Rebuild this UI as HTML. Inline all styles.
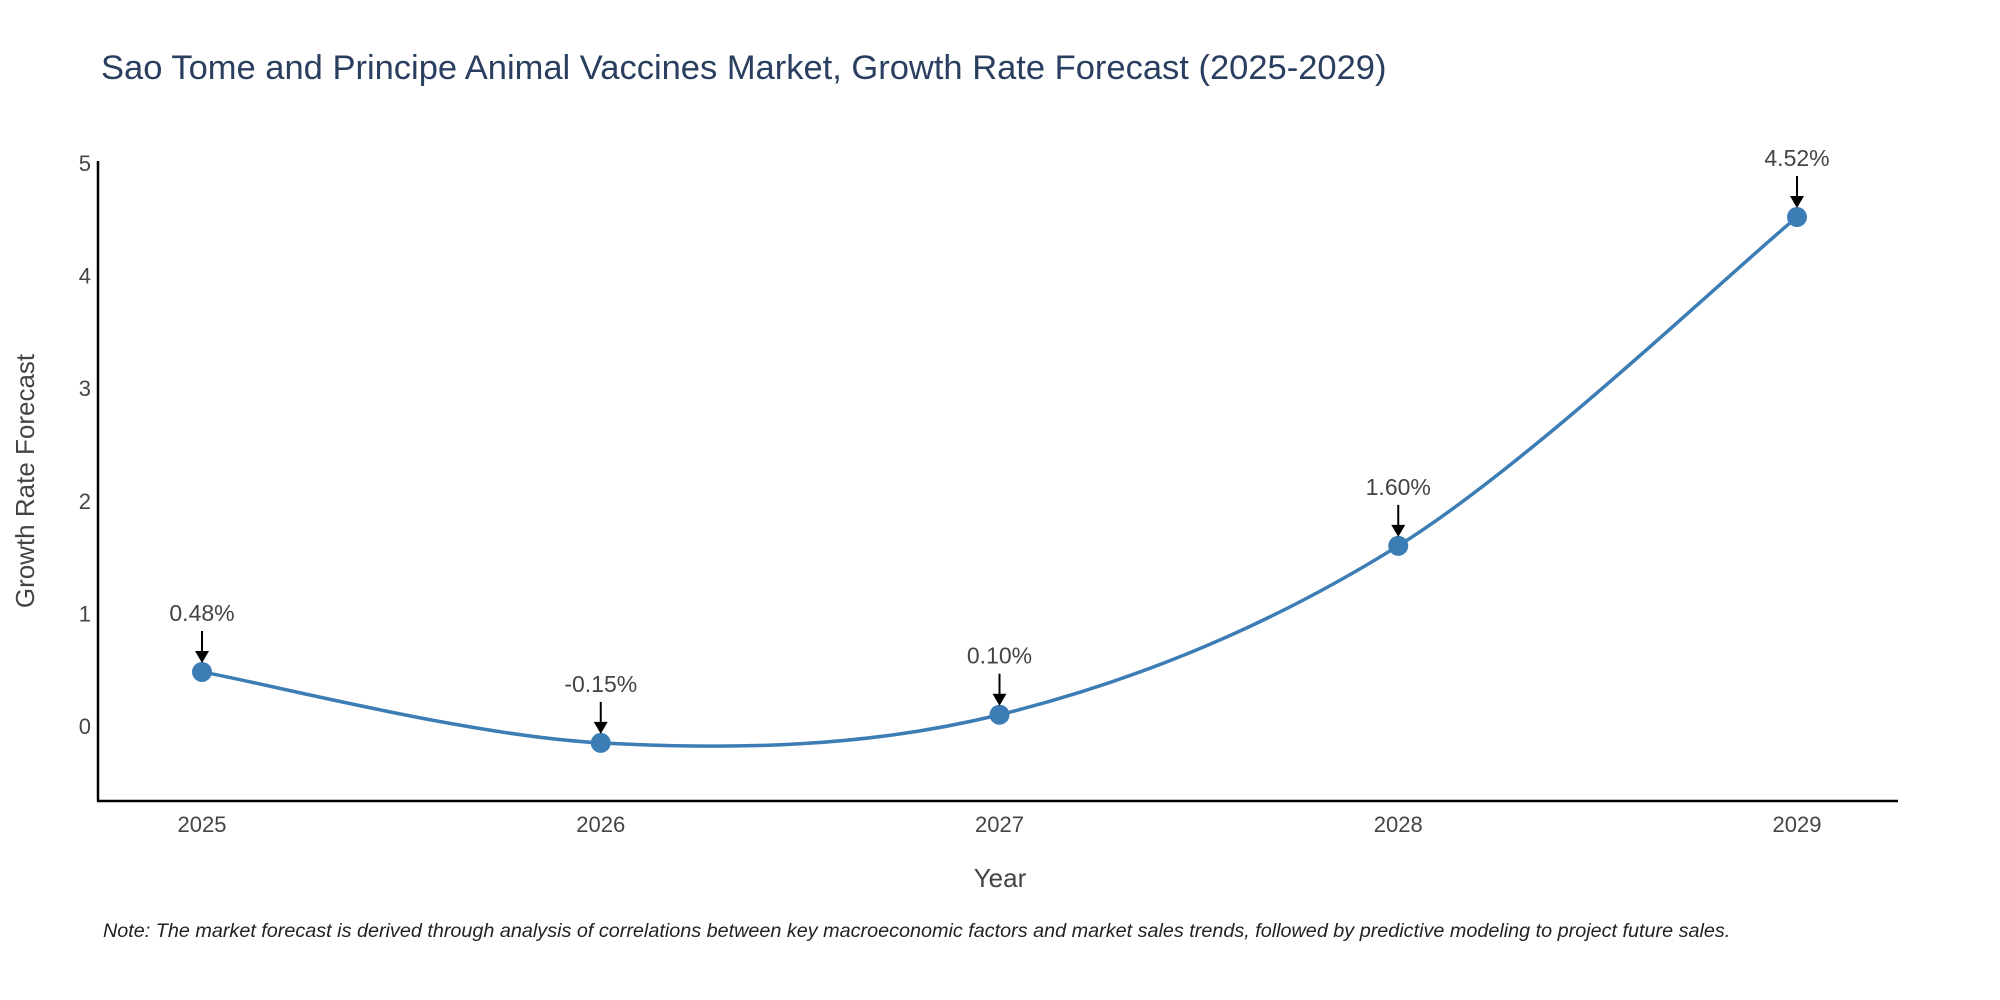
<!DOCTYPE html>
<html><head><meta charset="utf-8">
<style>
body{margin:0;background:#fff;}
svg{display:block;font-family:"Liberation Sans","DejaVu Sans",sans-serif;}
</style></head>
<body>
<svg id="chart" width="2000" height="1000" viewBox="0 0 2000 1000">
<text x="101" y="79" font-size="34.5" fill="#2a3f5f">Sao Tome and Principe Animal Vaccines Market, Growth Rate Forecast (2025-2029)</text>
<g id="axes"></g>
<g id="series"></g>
<g id="annots"></g>
<text x="34" y="481" font-size="26" fill="#444" text-anchor="middle" transform="rotate(-90 34 481)">Growth Rate Forecast</text>
<text x="1000" y="887" font-size="26" fill="#444" text-anchor="middle">Year</text>
<text x="103" y="937" font-size="19.8" fill="#222" font-style="italic">Note: The market forecast is derived through analysis of correlations between key macroeconomic factors and market sales trends, followed by predictive modeling to project future sales.</text>
</svg>
<script>
const years = [2025, 2026, 2027, 2028, 2029];
const growth = [0.48, -0.15, 0.10, 1.60, 4.52];
const labels = ["0.48%", "-0.15%", "0.10%", "1.60%", "4.52%"];
const yTicks = [0, 1, 2, 3, 4, 5];

const NS = "http://www.w3.org/2000/svg";
const x0 = 98, x1 = 1898, yTop = 161, yBot = 801;
const xs = i => 202 + i * (1797 - 202) / (years.length - 1);
const ys = v => 726 - v * 112.6;
function mk(tag, attrs, parent, txt){
  const e = document.createElementNS(NS, tag);
  for (const k in attrs) e.setAttribute(k, attrs[k]);
  if (txt !== undefined) e.textContent = txt;
  parent.appendChild(e); return e;
}
const axes = document.getElementById('axes');
let l = mk('line', {x1:x0, y1:yTop, x2:x0, y2:yBot, stroke:'#000', 'stroke-width':2.5}, axes);


l = mk('line', {x1:x0-1, y1:yBot, x2:x1, y2:yBot, stroke:'#000', 'stroke-width':2.5}, axes);


yTicks.forEach(t => {
  const e = mk('text', {x:91, y:ys(t)+8, 'font-size':22, fill:'#444', 'text-anchor':'end'}, axes, t);
  
  
});
years.forEach((y, i) => {
  const e = mk('text', {x:xs(i), y:832, 'font-size':22, fill:'#444', 'text-anchor':'middle'}, axes, y);
  
  
});
const pts = growth.map((v, i) => [xs(i), ys(v)]);
let d = `M${pts[0][0]},${pts[0][1]}`;
const s = 0.5 / 1.5;
for (let i = 0; i < pts.length - 1; i++) {
  const p0 = pts[Math.max(0, i-1)], p1 = pts[i], p2 = pts[i+1], p3 = pts[Math.min(pts.length-1, i+2)];
  const c1 = [p1[0] + (p2[0]-p0[0])*s/2, p1[1] + (p2[1]-p0[1])*s/2];
  const c2 = [p2[0] - (p3[0]-p1[0])*s/2, p2[1] - (p3[1]-p1[1])*s/2];
  d += ` C${c1[0]},${c1[1]} ${c2[0]},${c2[1]} ${p2[0]},${p2[1]}`;
}
const series = document.getElementById('series');
const line = mk('path', {d, fill:'none', stroke:'#3b7db4', 'stroke-width':3.5}, series);


const ann = document.getElementById('annots');
pts.forEach((p, i) => {
  const c = mk('circle', {cx:p[0], cy:p[1], r:10, fill:'#3b7db4'}, series);
  
  
  const a = mk('line', {x1:p[0], y1:p[1]-41, x2:p[0], y2:p[1]-20, stroke:'#000', 'stroke-width':2}, ann);
  
  
  const h = mk('path', {d:`M${p[0]-7},${p[1]-21} L${p[0]+7},${p[1]-21} L${p[0]},${p[1]-9} Z`, fill:'#000'}, ann);
  
  
  const t = mk('text', {x:p[0], y:p[1]-51, 'font-size':23, fill:'#444', 'text-anchor':'middle'}, ann, labels[i]);
  
  
});
</script>
</body></html>
